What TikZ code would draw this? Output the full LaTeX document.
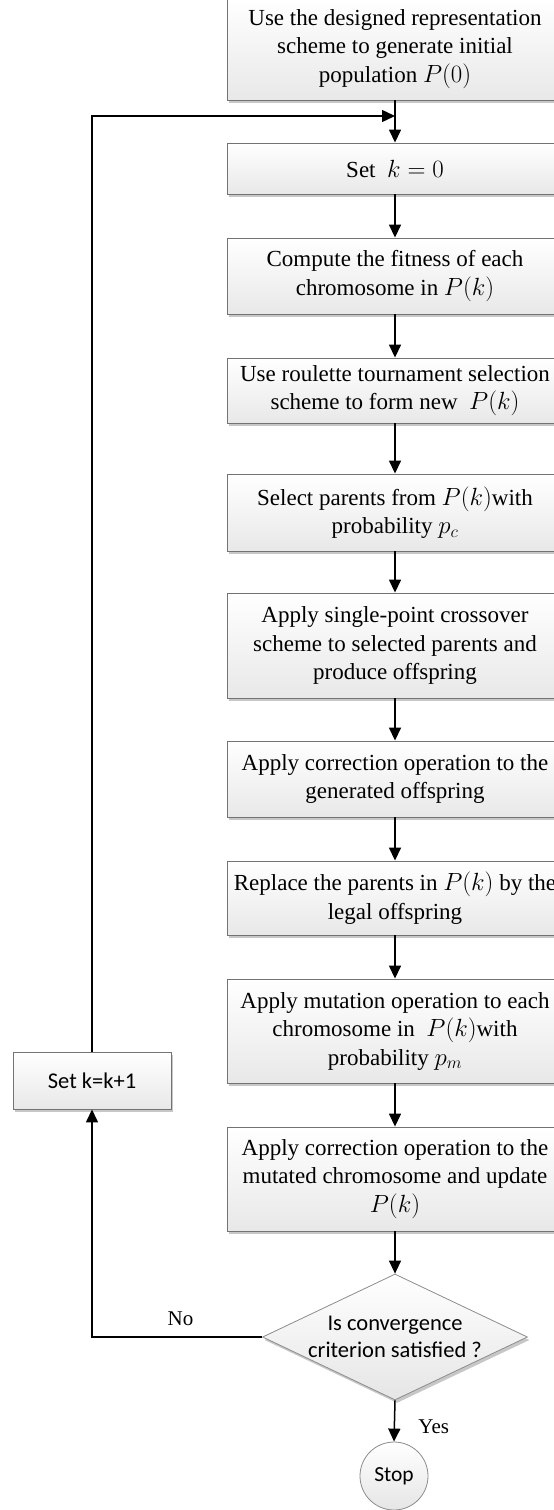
\documentclass[tikz,border=0pt]{standalone}
\usepackage{fontspec}
\setmainfont{Liberation Serif}
\newfontfamily\calibrifont{Carlito}
\usetikzlibrary{arrows.meta, positioning, shapes.geometric, shadows}
\tikzset{
  stepbox/.style={draw=black!55, line width=0.9pt, top color=white, bottom color=black!9,
                  minimum width=336pt, align=center, inner sep=2pt,
                  font=\fontsize{23}{28.5}\selectfont,
                  drop shadow={shadow xshift=2pt, shadow yshift=-3pt, fill=black!40, opacity=0.55}},
  sidebox/.style={draw=black!55, line width=0.9pt, top color=white, bottom color=black!9,
                  minimum width=158pt, minimum height=57pt, inner sep=2pt,
                  font=\calibrifont\fontsize{22.5}{27}\selectfont,
                  drop shadow={shadow xshift=2pt, shadow yshift=-3pt, fill=black!40, opacity=0.55}},
  decision/.style={diamond, draw=black!45, line width=0.8pt, top color=white, bottom color=black!10,
                  minimum width=265pt, minimum height=126pt, inner sep=0pt,
                  drop shadow={shadow xshift=2pt, shadow yshift=-3pt, fill=black!40, opacity=0.55}},
  terminal/.style={circle, draw=black!45, line width=0.8pt, top color=white, bottom color=black!10,
                  minimum size=68pt, inner sep=0pt, font=\calibrifont\fontsize{21.5}{26}\selectfont},
  dtext/.style={align=center, font=\calibrifont\fontsize{22.5}{27}\selectfont},
  lbl/.style={font=\fontsize{21}{26}\selectfont},
  flow/.style={-{Triangle[length=13pt,width=12pt]}, line width=1.5pt},
}
\begin{document}
\begin{tikzpicture}[x=1pt, y=-1pt]
    \clip (0,0) rectangle (554,1510);
    \node[stepbox, minimum height=102pt] (init)  at (395,49)
      {Use the designed representation\\scheme to generate initial\\population $P(0)$};
    \node[stepbox, minimum height=51pt]  (kzero) at (395,168.5) {Set \ $k=0$};
    \node[stepbox, minimum height=76pt]  (fit)   at (395,276)
      {Compute the fitness of each\\chromosome in $P(k)$};
    \node[stepbox, minimum height=65pt]  (sel)   at (395,390.5)
      {Use roulette tournament selection\\scheme to form new \ $P(k)$};
    \node[stepbox, minimum height=77pt]  (par)   at (395,512.5)
      {Select parents from $P(k)$with\\probability $p_c$};
    \node[stepbox, minimum height=105pt] (cross) at (395,645.5)
      {Apply single-point crossover\\scheme to selected parents and\\produce offspring};
    \node[stepbox, minimum height=76pt]  (corr)  at (395,779)
      {Apply correction operation to the\\generated offspring};
    \node[stepbox, minimum height=74pt]  (repl)  at (395,898)
      {Replace the parents in $P(k)$ by the\\legal offspring};
    \node[stepbox, minimum height=104pt] (mut)   at (395,1031)
      {Apply mutation operation to each\\chromosome in \ $P(k)$with\\probability $p_m$};
    \node[stepbox, minimum height=104pt] (upd)   at (395,1179)
      {Apply correction operation to the\\mutated chromosome and update\\$P(k)$};
    \node[decision] (conv) at (395,1337) {};
    \node[dtext] (convtxt) at (conv.center) {Is convergence\\criterion satisfied ?};
    \node[terminal] (stop) at (394,1476) {Stop};
    \node[sidebox] (inc) at (92,1080.5) {Set k=k+1};
    \coordinate (join) at (395,116);
    \draw[flow] (init) -- (kzero);
    \draw[flow] (kzero) -- (fit);
    \draw[flow] (fit) -- (sel);
    \draw[flow] (sel) -- (par);
    \draw[flow] (par) -- (cross);
    \draw[flow] (cross) -- (corr);
    \draw[flow] (corr) -- (repl);
    \draw[flow] (repl) -- (mut);
    \draw[flow] (mut) -- (upd);
    \draw[flow] (upd) -- (conv);
    \draw[flow] (conv.south) -- node[lbl, right, pos=0.64, xshift=20pt] {Yes} (stop.north);
    \draw[flow] (conv.west) -| node[lbl, above, pos=0.24, yshift=7pt] {No} (inc.south);
    \draw[flow] (inc.north) |- (join);
  \end{tikzpicture}
\end{document}
